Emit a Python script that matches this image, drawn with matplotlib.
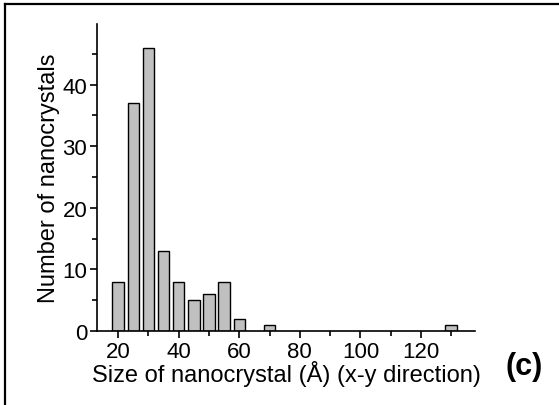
import matplotlib
matplotlib.use('Agg')
import matplotlib.pyplot as plt
from matplotlib.lines import Line2D
from matplotlib.ticker import MultipleLocator

sizes = [20, 25, 30, 35, 40, 45, 50, 55, 60, 70, 130]
counts = [8, 37, 46, 13, 8, 5, 6, 8, 2, 1, 1]

plt.rcParams['font.family'] = ['Liberation Sans', 'DejaVu Sans']

fig = plt.figure(figsize=(5.59, 4.06), dpi=100)
ax = fig.add_axes([0.1735, 0.182, 0.677, 0.756])

ax.bar(sizes, counts, width=3.8, color='#c0c0c0', edgecolor='black', linewidth=1)

ax.set_xlim(13, 138)
ax.set_ylim(0, 49.8)
ax.xaxis.set_minor_locator(MultipleLocator(10))
ax.yaxis.set_major_locator(MultipleLocator(10))
ax.yaxis.set_minor_locator(MultipleLocator(5))
ax.set_xticks([20, 40, 60, 80, 100, 120])
ax.tick_params(which='major', length=5, width=1.2, labelsize=16, direction='out', pad=2)
ax.tick_params(which='minor', length=3.5, width=1.2, direction='out')

ax.spines['right'].set_color('none')
ax.spines['top'].set_color('none')
ax.spines['left'].set_linewidth(1.2)
ax.spines['bottom'].set_linewidth(1.2)

ax.set_xlabel('Size of nanocrystal (\u00c5) (x-y direction)', fontsize=17, labelpad=-1)
ax.set_ylabel('Number of nanocrystals', fontsize=17, labelpad=2)

fig.text(0.938, 0.095, '(c)', fontsize=22, fontweight='bold', ha='center', va='center')

# frame (only top and left edges visible in the cropped original)
fig.add_artist(Line2D([0.009, 1.0], [0.988, 0.988], transform=fig.transFigure, color='black', linewidth=1.6))
fig.add_artist(Line2D([0.009, 0.009], [0.0, 0.988], transform=fig.transFigure, color='black', linewidth=1.6))

fig.savefig('out.png', dpi=100)
